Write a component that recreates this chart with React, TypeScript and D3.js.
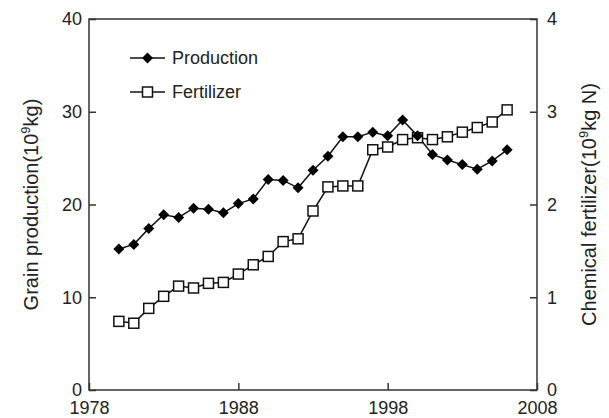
import React, { useEffect, useRef } from "react";
import * as d3 from "d3";

const years = [
  1980, 1981, 1982, 1983, 1984, 1985, 1986, 1987, 1988, 1989, 1990, 1991, 1992,
  1993, 1994, 1995, 1996, 1997, 1998, 1999, 2000, 2001, 2002, 2003, 2004, 2005,
  2006,
];
// grain production, 10^9 kg
const production = [
  15.2, 15.7, 17.4, 18.9, 18.6, 19.6, 19.5, 19.1, 20.1, 20.6, 22.7, 22.6, 21.8,
  23.7, 25.2, 27.3, 27.3, 27.8, 27.4, 29.1, 27.4, 25.4, 24.8, 24.3, 23.8, 24.7,
  25.9,
];
// chemical fertilizer, 10^9 kg N
const fertilizer = [
  0.74, 0.72, 0.88, 1.01, 1.12, 1.1, 1.15, 1.16, 1.25, 1.35, 1.44, 1.6, 1.63,
  1.93, 2.19, 2.2, 2.2, 2.59, 2.62, 2.7, 2.72, 2.7, 2.73, 2.78, 2.83, 2.89,
  3.02,
];
const xTicks = [1978, 1988, 1998, 2008];
const leftTicks = [0, 10, 20, 30, 40];
const rightTicks = [0, 1, 2, 3, 4];

const App = () => {
  const svgRef = useRef<SVGSVGElement>(null);

  useEffect(() => {
    const W = 609,
      H = 418;
    const margin = { top: 19, right: 72, bottom: 28, left: 89 };
    const font = "'Liberation Sans', Arial, sans-serif";
    const ink = "#222";

    const svg = d3.select(svgRef.current).attr("width", W).attr("height", H);
    svg.selectAll("*").remove();

    const x = d3
      .scaleLinear()
      .domain([1978, 2008])
      .range([margin.left, W - margin.right]);
    const yL = d3
      .scaleLinear()
      .domain([0, 40])
      .range([H - margin.bottom, margin.top]);
    const yR = d3
      .scaleLinear()
      .domain([0, 4])
      .range([H - margin.bottom, margin.top]);

    // frame
    svg
      .append("rect")
      .attr("x", margin.left)
      .attr("y", margin.top)
      .attr("width", W - margin.right - margin.left)
      .attr("height", H - margin.bottom - margin.top)
      .attr("fill", "none")
      .attr("stroke", "#333")
      .attr("stroke-width", 1.5);

    const styleAxis = (g: any) => {
      g.select(".domain").remove();
      g.selectAll(".tick line").attr("stroke", "#333").attr("stroke-width", 1.5);
      g.selectAll(".tick text")
        .attr("fill", ink)
        .attr("font-family", font)
        .attr("font-size", 18);
    };

    svg
      .append("g")
      .attr("transform", `translate(0,${H - margin.bottom})`)
      .call(
        d3
          .axisBottom(x)
          .tickValues(xTicks)
          .tickFormat(d3.format("d"))
          .tickSizeInner(-7)
          .tickPadding(11)
      )
      .call(styleAxis);

    svg
      .append("g")
      .attr("transform", `translate(${margin.left},0)`)
      .call(d3.axisLeft(yL).tickValues(leftTicks).tickSizeInner(-7).tickPadding(7))
      .call(styleAxis);

    svg
      .append("g")
      .attr("transform", `translate(${W - margin.right},0)`)
      .call(
        d3
          .axisRight(yR)
          .tickValues(rightTicks)
          .tickFormat(d3.format("d"))
          .tickSizeInner(-7)
          .tickPadding(10)
      )
      .call(styleAxis);

    // axis titles
    const midY = (margin.top + H - margin.bottom) / 2;
    const lt = svg
      .append("text")
      .attr("transform", `translate(38,${midY}) rotate(-90)`)
      .attr("text-anchor", "middle")
      .attr("font-family", font)
      .attr("font-size", 20)
      .attr("fill", ink);
    lt.append("tspan").text("Grain production(10");
    lt.append("tspan").attr("dy", -8).attr("font-size", 13).text("9");
    lt.append("tspan").attr("dy", 8).text("kg)");

    const rt = svg
      .append("text")
      .attr("transform", `translate(596,${midY}) rotate(-90)`)
      .attr("text-anchor", "middle")
      .attr("font-family", font)
      .attr("font-size", 20)
      .attr("fill", ink);
    rt.append("tspan").text("Chemical fertilizer(10");
    rt.append("tspan").attr("dy", -8).attr("font-size", 13).text("9");
    rt.append("tspan").attr("dy", 8).text("kg N)");

    const prodData = years.map((yr, i) => ({ yr, v: production[i] }));
    const fertData = years.map((yr, i) => ({ yr, v: fertilizer[i] }));

    const lineL = d3
      .line<any>()
      .x((d) => x(d.yr))
      .y((d) => yL(d.v));
    const lineR = d3
      .line<any>()
      .x((d) => x(d.yr))
      .y((d) => yR(d.v));

    const diamond = (s: number) => `M0,${-s}L${s},0L0,${s}L${-s},0Z`;

    svg
      .append("path")
      .datum(fertData)
      .attr("fill", "none")
      .attr("stroke", "#111")
      .attr("stroke-width", 1.5)
      .attr("d", lineR);

    svg
      .append("path")
      .datum(prodData)
      .attr("fill", "none")
      .attr("stroke", "#111")
      .attr("stroke-width", 1.5)
      .attr("d", lineL);

    svg
      .selectAll(".fert")
      .data(fertData)
      .join("rect")
      .attr("x", (d) => x(d.yr) - 5)
      .attr("y", (d) => yR(d.v) - 5)
      .attr("width", 10)
      .attr("height", 10)
      .attr("fill", "#fff")
      .attr("stroke", "#111")
      .attr("stroke-width", 1.5);

    svg
      .selectAll(".prod")
      .data(prodData)
      .join("path")
      .attr("transform", (d) => `translate(${x(d.yr)},${yL(d.v)})`)
      .attr("d", diamond(5.5))
      .attr("fill", "#000");

    // legend
    const leg = svg.append("g").attr("font-family", font).attr("font-size", 18);
    const items = [
      { label: "Production", y: 58, kind: "diamond" },
      { label: "Fertilizer", y: 92, kind: "square" },
    ];
    items.forEach((it) => {
      leg
        .append("line")
        .attr("x1", 130)
        .attr("x2", 165)
        .attr("y1", it.y)
        .attr("y2", it.y)
        .attr("stroke", "#111")
        .attr("stroke-width", 1.5);
      if (it.kind === "diamond") {
        leg
          .append("path")
          .attr("transform", `translate(147.5,${it.y})`)
          .attr("d", diamond(5.5))
          .attr("fill", "#000");
      } else {
        leg
          .append("rect")
          .attr("x", 142.5)
          .attr("y", it.y - 5)
          .attr("width", 10)
          .attr("height", 10)
          .attr("fill", "#fff")
          .attr("stroke", "#111")
          .attr("stroke-width", 1.5);
      }
      leg
        .append("text")
        .attr("x", 172)
        .attr("y", it.y)
        .attr("dy", "0.35em")
        .attr("fill", ink)
        .text(it.label);
    });
  }, []);

  return (
    <svg
      ref={svgRef}
      style={{ position: "absolute", left: 0, top: 0, background: "#fff" }}
    ></svg>
  );
};

export default App;
